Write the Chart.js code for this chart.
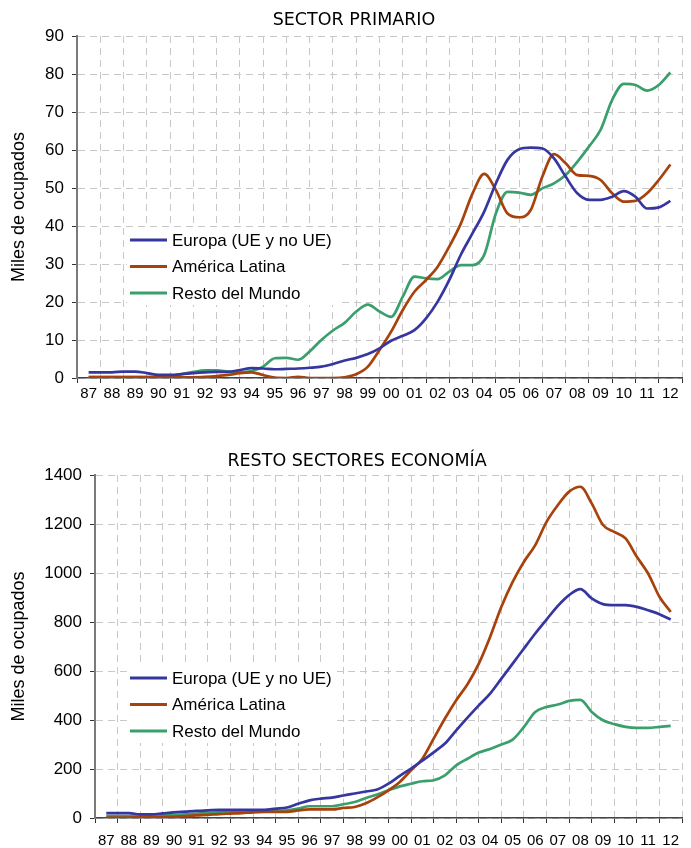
<!DOCTYPE html>
<html>
<head>
<meta charset="utf-8">
<script src="https://cdn.jsdelivr.net/npm/chart.js@4.4.1/dist/chart.umd.min.js"></script>
<style>
  html, body { margin: 0; padding: 0; background: #fff; }
  .panel { position: relative; width: 691px; }
</style>
</head>
<body>
<div class="panel" style="height:420px"><canvas id="primario" width="691" height="420"></canvas></div>
<div class="panel" style="height:428px"><canvas id="resto" width="691" height="428"></canvas></div>
<script>
// x labels, one per year (87 ... 12)
const yearLabels = ['87', '88', '89', '90', '91', '92', '93', '94', '95', '96', '97', '98', '99',
    '00', '01', '02', '03', '04', '05', '06', '07', '08', '09', '10', '11', '12'];
const seriesNames = ['Europa (UE y no UE)', 'América Latina', 'Resto del Mundo'];

// half-year sample points
const years = [1987, 1987.5, 1988, 1988.5, 1989, 1989.5, 1990, 1990.5, 1991, 1991.5, 1992, 1992.5,
    1993, 1993.5, 1994, 1994.5, 1995, 1995.5, 1996, 1996.5, 1997, 1997.5, 1998, 1998.5, 1999, 1999.5,
    2000, 2000.5, 2001, 2001.5, 2002, 2002.5, 2003, 2003.5, 2004, 2004.5, 2005, 2005.5, 2006, 2006.5,
    2007, 2007.5, 2008, 2008.5, 2009, 2009.5, 2010, 2010.5, 2011, 2011.5, 2012];

// SECTOR PRIMARIO (miles de ocupados)
const primEuropa = [1.5, 1.5, 1.5, 1.7, 1.7, 1.3, 0.8, 0.8, 1.0, 1.3, 1.5, 1.6,
    1.6, 2.1, 2.6, 2.5, 2.3, 2.4, 2.5, 2.7, 3.0, 3.7, 4.6, 5.3, 6.3, 7.8,
    9.8, 11.1, 12.6, 15.7, 20.1, 25.8, 32.5, 38.1, 43.8, 51.2, 57.4, 60.2, 60.6, 60.4,
    57.8, 53.0, 48.6, 46.9, 46.9, 47.7, 49.2, 47.7, 44.6, 44.9, 46.6];
const primAmerica = [0.2, 0.2, 0.2, 0.2, 0.2, 0.2, 0.2, 0.2, 0.2, 0.2, 0.3, 0.5,
    0.8, 1.3, 1.5, 0.8, 0.1, 0.0, 0.3, 0.0, 0.0, 0.0, 0.2, 1.0, 3.0, 7.4,
    12.2, 17.9, 22.7, 25.8, 29.3, 34.6, 40.7, 48.6, 53.7, 49.5, 43.3, 42.3, 44.2, 53.0,
    58.9, 56.5, 53.4, 53.2, 52.1, 48.6, 46.4, 46.6, 48.6, 52.1, 56.2];
const primResto = [0.3, 0.3, 0.3, 0.3, 0.3, 0.3, 0.3, 0.5, 1.0, 1.6, 2.0, 2.0,
    1.7, 1.5, 1.8, 3.0, 5.2, 5.3, 4.8, 7.0, 10.0, 12.5, 14.5, 17.5, 19.3, 17.5,
    16.1, 21.4, 26.7, 26.2, 26.0, 28.0, 29.7, 29.7, 32.4, 43.3, 49.0, 48.8, 48.2, 49.9,
    51.2, 53.4, 56.9, 60.9, 65.3, 73.2, 77.4, 77.1, 75.6, 77.1, 80.4];

// RESTO SECTORES ECONOMÍA (miles de ocupados)
const restoEuropa = [20, 20, 20, 15, 15, 19, 23, 26, 29, 31, 33, 33,
    33, 33, 33, 38, 43, 58, 72, 79, 83, 92, 100, 108, 116, 140,
    172, 202, 234, 268, 304, 358, 410, 460, 508, 569, 630, 692, 753, 810,
    866, 910, 934, 896, 873, 869, 869, 862, 848, 832, 810];
const restoAmerica = [2, 2, 2, 3, 3, 4, 5, 8, 11, 13, 16, 18,
    20, 23, 25, 25, 25, 31, 35, 35, 35, 41, 45, 60, 84, 113,
    147, 195, 242, 324, 406, 481, 546, 630, 739, 862, 964, 1046, 1114, 1209,
    1277, 1332, 1352, 1284, 1196, 1168, 1141, 1066, 998, 903, 841];
const restoResto = [8, 8, 8, 9, 10, 11, 12, 15, 18, 21, 23, 24,
    25, 25, 26, 28, 31, 38, 48, 48, 48, 56, 65, 82, 96, 113,
    129, 140, 150, 154, 174, 215, 242, 267, 282, 300, 320, 372, 433, 453,
    463, 478, 482, 433, 399, 383, 372, 368, 368, 372, 376];

const seriesColors = ['#3636a0', '#a8420c', '#3a9f6c'];
const gridColor = '#c8c8c8';
const FONT = '"Liberation Sans", Arial, sans-serif';

// title + inside legend with white box (Excel style)
const panelDecor = {
    id: 'panelDecor',
    afterDraw(chart, args, opts) {
        const ctx = chart.ctx;
        ctx.save();
        ctx.fillStyle = '#000';
        ctx.font = '17.5px "DejaVu Sans", sans-serif';
        ctx.textAlign = 'center';
        ctx.textBaseline = 'middle';
        ctx.fillText(opts.title, opts.titleX, opts.titleY);

        const rowGap = 26.5;
        ctx.fillStyle = '#fff';
        ctx.fillRect(opts.legendX - 3, opts.legendY - 12, 210, rowGap * 2 + 24);
        ctx.font = '17px ' + FONT;
        ctx.textAlign = 'left';
        chart.data.datasets.forEach((ds, i) => {
            const y = opts.legendY + i * rowGap;
            ctx.strokeStyle = ds.borderColor;
            ctx.lineWidth = 3;
            ctx.beginPath();
            ctx.moveTo(opts.legendX, y);
            ctx.lineTo(opts.legendX + 37, y);
            ctx.stroke();
            ctx.fillStyle = '#000';
            ctx.fillText(ds.label, opts.legendX + 42, y + 1);
        });
        ctx.restore();
    }
};

const buildChart = (canvasId, cfg) => {
    const ctx = document.getElementById(canvasId).getContext('2d');
    const datasets = cfg.series.map((values, i) => ({
        label: seriesNames[i],
        data: values.map((v, j) => ({ x: years[j], y: v })),
        borderColor: seriesColors[i],
        borderWidth: 2.7,
        pointRadius: 0,
        fill: false,
        cubicInterpolationMode: 'monotone'
    }));

    return new Chart(ctx, {
        type: 'line',
        data: { datasets },
        plugins: [panelDecor],
        options: {
            responsive: false,
            animation: false,
            layout: { padding: { top: cfg.top, right: 9, left: 0, bottom: 0 } },
            plugins: {
                legend: { display: false },
                tooltip: { enabled: false },
                panelDecor: cfg.decor
            },
            scales: {
                x: {
                    type: 'linear',
                    min: 1986.5,
                    max: 2012.5,
                    afterBuildTicks: (scale) => {
                        const ticks = [];
                        yearLabels.forEach((_, i) => {
                            ticks.push({ value: 1986.5 + i });
                            ticks.push({ value: 1987 + i });
                        });
                        ticks.push({ value: 2012.5 });
                        scale.ticks = ticks;
                    },
                    afterFit: (scale) => { scale.height = cfg.xHeight; },
                    grid: {
                        color: (c) => (c.tick && c.tick.value % 1 === 0) ? 'rgba(0,0,0,0)' : gridColor,
                        tickColor: (c) => (c.tick && c.tick.value % 1 === 0) ? 'rgba(0,0,0,0)' : '#333',
                        tickLength: 5,
                        lineWidth: 1
                    },
                    border: { color: '#444', width: 1.5, dash: [7, 5] },
                    ticks: {
                        autoSkip: false,
                        maxRotation: 0,
                        padding: cfg.xPad,
                        color: '#000',
                        font: { family: FONT, size: 15 },
                        callback: (value) => value % 1 === 0 ? yearLabels[value - 1987] : ''
                    }
                },
                y: {
                    min: 0,
                    max: cfg.yMax,
                    afterFit: (scale) => { scale.width = cfg.yWidth; },
                    grid: { color: gridColor, tickColor: '#333', tickLength: 5, lineWidth: 1 },
                    border: { color: '#7a7a7a', width: 2, dash: [7, 5] },
                    ticks: {
                        stepSize: cfg.yStep,
                        padding: 8,
                        color: '#000',
                        font: { family: FONT, size: 17 },
                        callback: (value) => String(value)
                    },
                    title: {
                        display: true,
                        text: 'Miles de ocupados',
                        color: '#000',
                        padding: { top: 8, bottom: 0 },
                        font: { family: FONT, size: 18 }
                    }
                }
            }
        }
    });
};

buildChart('primario', {
    series: [primEuropa, primAmerica, primResto],
    yMax: 90, yStep: 10,
    top: 36, yWidth: 77, xHeight: 42, xPad: 2,
    decor: { title: 'SECTOR PRIMARIO', titleX: 354, titleY: 20, legendX: 130, legendY: 240 }
});

buildChart('resto', {
    series: [restoEuropa, restoAmerica, restoResto],
    yMax: 1400, yStep: 200,
    top: 55, yWidth: 95, xHeight: 30, xPad: 9,
    decor: { title: 'RESTO SECTORES ECONOMÍA', titleX: 357, titleY: 41, legendX: 130, legendY: 258 }
});
</script>
</body>
</html>
